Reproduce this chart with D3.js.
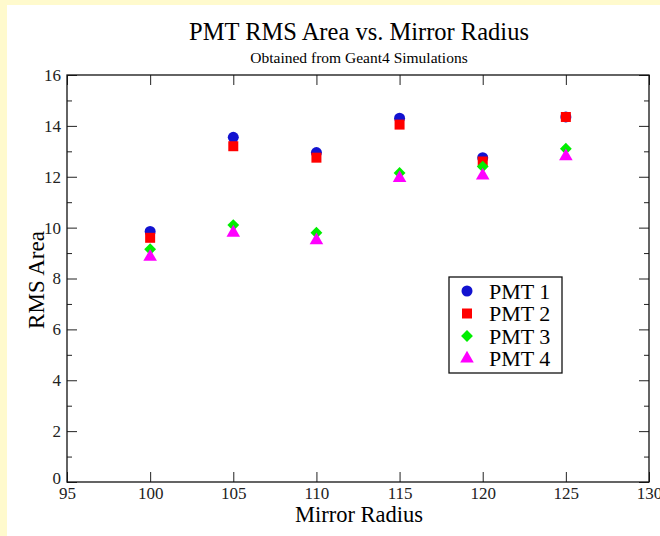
<!DOCTYPE html>
<meta charset="utf-8">
<script src="https://d3js.org/d3.v7.min.js"></script>
<style>
  body { margin: 0; background: #fffacd; }
  text { font-family: "Liberation Serif", "Times New Roman", serif; }
</style>
<div id="my_dataviz"></div>
<script>

// data
var radius = [100, 105, 110, 115, 120, 125];
var pmt1 = [9.85, 13.55, 12.95, 14.3, 12.75, 14.35];
var pmt2 = [9.6, 13.2, 12.75, 14.05, 12.6, 14.35];
var pmt3 = [9.15, 10.1, 9.8, 12.15, 12.4, 13.1];
var pmt4 = [8.85, 9.8, 9.5, 11.95, 12.05, 12.8];
var seriesNames = ["PMT 1", "PMT 2", "PMT 3", "PMT 4"];
var xTicks = [95, 100, 105, 110, 115, 120, 125, 130];
var yTicks = [0, 2, 4, 6, 8, 10, 12, 14, 16];
var yMinor = [1, 3, 5, 7, 9, 11, 13, 15];

var series = [
  {name: seriesNames[0], values: pmt1, color: "#1212d0", shape: d3.symbolCircle, size: 95, rot: 0},
  {name: seriesNames[1], values: pmt2, color: "#ff0000", shape: d3.symbolSquare, size: 100, rot: 0},
  {name: seriesNames[2], values: pmt3, color: "#00ee00", shape: d3.symbolSquare, size: 70, rot: 45},
  {name: seriesNames[3], values: pmt4, color: "#ff00ff", shape: d3.symbolTriangle, size: 80, rot: 0}
];

var W = 660, H = 536;
var margin = {top: 75, right: 11, bottom: 54, left: 67},
    width = W - margin.left - margin.right,
    height = H - margin.top - margin.bottom;

var root = d3.select("#my_dataviz")
  .append("svg")
    .attr("width", W)
    .attr("height", H);

// white page area on the yellow background
root.append("rect")
  .attr("x", 7).attr("y", 5)
  .attr("width", W - 7).attr("height", H - 5)
  .attr("fill", "#ffffff");

var svg = root.append("g")
  .attr("transform", "translate(" + margin.left + "," + margin.top + ")");

var x = d3.scaleLinear().domain([95, 130]).range([0, width]);
var y = d3.scaleLinear().domain([0, 16]).range([height, 0]);

function styleAxis(g) {
  g.select(".domain").remove();
  g.selectAll("text").style("font-size", "17px").attr("fill", "#222");
  g.selectAll(".tick line").attr("stroke", "#222");
}

// bottom axis (ticks inward)
svg.append("g")
  .attr("transform", "translate(0," + height + ")")
  .call(d3.axisBottom(x).tickValues(xTicks).tickSize(-10).tickPadding(5).tickFormat(d3.format("d")))
  .call(styleAxis);

// top axis mirror ticks
svg.append("g")
  .call(d3.axisTop(x).tickValues(xTicks).tickSize(-10).tickFormat(""))
  .call(styleAxis);

// left axis
svg.append("g")
  .call(d3.axisLeft(y).tickValues(yTicks).tickSize(-10).tickPadding(6).tickFormat(d3.format("d")))
  .call(styleAxis);
svg.append("g")
  .call(d3.axisLeft(y).tickValues(yMinor).tickSize(-5).tickFormat(""))
  .call(styleAxis);

// right axis mirror ticks
svg.append("g")
  .attr("transform", "translate(" + width + ",0)")
  .call(d3.axisRight(y).tickValues(yTicks).tickSize(-10).tickFormat(""))
  .call(styleAxis);
svg.append("g")
  .attr("transform", "translate(" + width + ",0)")
  .call(d3.axisRight(y).tickValues(yMinor).tickSize(-5).tickFormat(""))
  .call(styleAxis);

// the y "0" sits a little above its tick in the original
svg.selectAll(".tick text").filter(function(d) { return d === 0; }).attr("dy", "0.1em");

// frame
svg.append("rect")
  .attr("width", width).attr("height", height)
  .attr("fill", "none").attr("stroke", "#111").attr("stroke-width", 1.3);

// points
series.forEach(function(s) {
  svg.selectAll(null)
    .data(radius.map(function(r, i) { return {r: r, v: s.values[i]}; }))
    .enter()
    .append("path")
      .attr("d", d3.symbol().type(s.shape).size(s.size))
      .attr("transform", function(d) { return "translate(" + x(d.r) + "," + y(d.v) + ") rotate(" + s.rot + ")"; })
      .attr("fill", s.color);
});

// legend
var legend = svg.append("g")
  .attr("transform", "translate(" + (449 - margin.left) + "," + (277 - margin.top) + ")");
legend.append("rect")
  .attr("width", 113).attr("height", 96)
  .attr("fill", "#fff").attr("stroke", "#111").attr("stroke-width", 1.3);
series.forEach(function(s, i) {
  var row = legend.append("g").attr("transform", "translate(0," + (14 + i * 22.5) + ")");
  row.append("path")
    .attr("d", d3.symbol().type(s.shape).size(s.size))
    .attr("transform", "translate(18,0) rotate(" + s.rot + ")")
    .attr("fill", s.color);
  row.append("text")
    .attr("x", 40).attr("y", 0).attr("dy", "0.35em")
    .style("font-size", "22px")
    .text(s.name);
});

// titles
root.append("text")
  .attr("x", 359).attr("y", 40)
  .attr("text-anchor", "middle")
  .style("font-size", "24.5px")
  .text("PMT RMS Area vs. Mirror Radius");

root.append("text")
  .attr("x", 359).attr("y", 63)
  .attr("text-anchor", "middle")
  .style("font-size", "15.5px")
  .text("Obtained from Geant4 Simulations");

root.append("text")
  .attr("x", 359).attr("y", 522)
  .attr("text-anchor", "middle")
  .style("font-size", "22.5px")
  .text("Mirror Radius");

root.append("text")
  .attr("transform", "translate(44,280) rotate(-90)")
  .attr("text-anchor", "middle")
  .style("font-size", "23px")
  .text("RMS Area");

</script>
